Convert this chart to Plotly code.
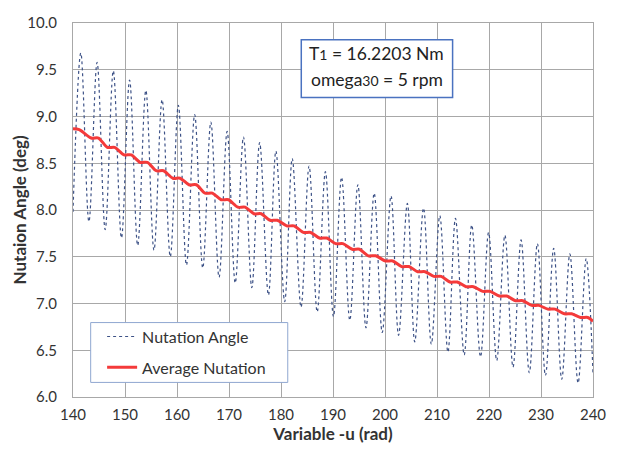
import plotly.graph_objects as go

# --- Nutation angle: start, then alternating peaks/troughs, end ---
peak_u = [141.50, 144.63, 147.75, 150.88, 154.01, 157.13, 160.26, 163.40, 166.51, 169.64,
          172.78, 175.89, 179.02, 182.16, 185.40, 188.54, 191.65, 194.78, 197.92, 201.16,
          204.30, 207.41, 210.54, 213.55, 216.68, 219.92, 223.06, 226.17, 229.31, 232.44,
          235.55, 238.69]
peak_deg = [9.68, 9.58, 9.49, 9.39, 9.28, 9.18, 9.12, 9.02, 8.94, 8.84,
            8.78, 8.72, 8.63, 8.55, 8.47, 8.41, 8.35, 8.27, 8.18, 8.15,
            8.07, 8.02, 7.94, 7.91, 7.84, 7.76, 7.73, 7.68, 7.64, 7.59,
            7.53, 7.48]
trough_u = [143.06, 146.19, 149.32, 152.44, 155.57, 158.71, 161.82, 164.95, 168.09, 171.20,
            174.39, 177.58, 180.71, 183.85, 186.96, 190.09, 193.23, 196.34, 199.47, 202.61,
            205.72, 208.91, 212.10, 215.23, 218.37, 221.48, 224.62, 227.75, 230.86, 233.99,
            237.13]
trough_deg = [7.875, 7.79, 7.70, 7.62, 7.57, 7.50, 7.41, 7.38, 7.28, 7.22,
              7.17, 7.09, 7.02, 6.96, 6.91, 6.86, 6.82, 6.74, 6.69, 6.66,
              6.59, 6.565, 6.48, 6.45, 6.43, 6.39, 6.32, 6.26, 6.23, 6.19,
              6.15]
start_u, start_deg = 140.0, 7.98
end_u, end_deg = 240.0, 6.25

# --- Average nutation: staircase-like, flat segment start/end points ---
avg_u = [140.0, 141.2,
         143.5, 144.9, 146.6, 148.0, 149.8, 151.2, 152.9, 154.3, 156.0, 157.4,
         159.2, 160.6, 162.3, 163.7, 165.4, 166.8, 168.5, 169.9, 171.7, 173.1,
         174.8, 176.2, 177.9, 179.3, 181.1, 182.5, 184.3, 185.7, 187.4, 188.8,
         190.5, 191.9, 193.7, 195.1, 196.8, 198.2, 200.1, 201.5, 203.2, 204.6,
         206.3, 207.7, 209.4, 210.8, 212.5, 213.9, 215.6, 217.0, 218.8, 220.2,
         222.0, 223.4, 225.1, 226.5, 228.2, 229.6, 231.3, 232.7, 234.5, 235.9,
         237.6, 239.0, 240.0]
avg_deg = [8.87, 8.86,
           8.77, 8.77, 8.67, 8.67, 8.59, 8.59, 8.51, 8.51, 8.42, 8.42,
           8.34, 8.34, 8.27, 8.27, 8.18, 8.18, 8.11, 8.11, 8.03, 8.03,
           7.96, 7.96, 7.89, 7.89, 7.83, 7.83, 7.76, 7.76, 7.70, 7.70,
           7.64, 7.64, 7.58, 7.58, 7.51, 7.51, 7.455, 7.455, 7.395, 7.395,
           7.34, 7.34, 7.29, 7.29, 7.23, 7.23, 7.18, 7.18, 7.13, 7.13,
           7.08, 7.08, 7.03, 7.03, 6.98, 6.98, 6.94, 6.94, 6.89, 6.89,
           6.85, 6.85, 6.81]

x_ticks = [140, 150, 160, 170, 180, 190, 200, 210, 220, 230, 240]
y_ticks = [6.0, 6.5, 7.0, 7.5, 8.0, 8.5, 9.0, 9.5, 10.0]

# assemble the oscillating series in order
nut_u = [start_u]
nut_deg = [start_deg]
for i in range(len(peak_u)):
    nut_u.append(peak_u[i]); nut_deg.append(peak_deg[i])
    if i < len(trough_u):
        nut_u.append(trough_u[i]); nut_deg.append(trough_deg[i])
nut_u.append(end_u); nut_deg.append(end_deg)

FONT = "Lato"
TXT = "#333333"
GRID = "#A8A8A8"
fig = go.Figure()
fig.add_trace(go.Scatter(
    x=nut_u, y=nut_deg, mode="lines", name="Nutation Angle", legendgroup="a",
    line=dict(color="#3D5287", width=1.2, dash="dot", shape="spline", smoothing=1.0),
))
fig.add_trace(go.Scatter(
    x=avg_u, y=avg_deg, mode="lines", name="Average Nutation", legendgroup="b",
    line=dict(color="#F43A3A", width=3, shape="spline", smoothing=0.8),
))

# page body has an 8px margin; keep the whole figure inside the 619x453 window
fig.update_layout(
    width=603, height=437,
    margin=dict(l=65, r=5, t=8, b=48),
    paper_bgcolor="white", plot_bgcolor="white",
    font=dict(family=FONT, size=15, color=TXT),
    xaxis=dict(
        range=[140, 240], tickvals=x_ticks, ticktext=[str(v) for v in x_ticks],
        showgrid=True, gridcolor=GRID, gridwidth=1,
        showline=True, linecolor=GRID, linewidth=1, mirror=True,
        zeroline=False, ticks="", ticklen=0, ticklabelstandoff=4,
        ticklabeloverflow="allow",
        tickfont=dict(family=FONT, size=15, color=TXT),
        title=dict(text="<b>Variable -u (rad)</b>", font=dict(family=FONT, size=17, color=TXT), standoff=3),
    ),
    yaxis=dict(
        range=[6.0, 10.0], tickvals=y_ticks, ticktext=[f"{v:.1f}" for v in y_ticks],
        showgrid=True, gridcolor=GRID, gridwidth=1,
        showline=True, linecolor=GRID, linewidth=1, mirror=True,
        zeroline=False, ticks="", ticklen=0, ticklabelstandoff=12,
        ticklabeloverflow="allow",
        tickfont=dict(family=FONT, size=15, color=TXT),
    ),
    legend=dict(
        x=0.056, y=0.207, xanchor="left", yanchor="top",
        bgcolor="rgba(0,0,0,0)", borderwidth=0,
        font=dict(family=FONT, size=16, color=TXT),
        tracegroupgap=7, itemwidth=30,
    ),
    showlegend=True,
)

# legend frame
fig.add_shape(type="rect", xref="paper", yref="paper",
              x0=0.034, x1=0.413, y0=0.039, y1=0.199,
              line=dict(color="#8FA7D0", width=1), fillcolor="white", layer="above")

# y-axis title
fig.add_annotation(xref="paper", yref="paper", x=-0.103, y=0.5, textangle=-90,
                   text="<b>Nutaion Angle (deg)</b>", showarrow=False,
                   xanchor="center", yanchor="middle",
                   font=dict(family=FONT, size=17, color=TXT))

# parameter box
fig.add_shape(type="rect", xref="paper", yref="paper",
              x0=0.439, x1=0.730, y0=0.801, y1=0.955,
              line=dict(color="#4A72C0", width=1.5), fillcolor="white", layer="above")
fig.add_annotation(xref="paper", yref="paper", x=0.584, y=0.919, xanchor="center", yanchor="middle",
                   text="T<span style='font-size:14px'>1</span> = 16.2203 Nm", showarrow=False,
                   font=dict(family=FONT, size=17.5, color="#222222"))
fig.add_annotation(xref="paper", yref="paper", x=0.584, y=0.848, xanchor="center", yanchor="middle",
                   text="omega<span style='font-size:14px'>30</span> = 5 rpm", showarrow=False,
                   font=dict(family=FONT, size=17.5, color="#222222"))

fig.write_html("out.html")
